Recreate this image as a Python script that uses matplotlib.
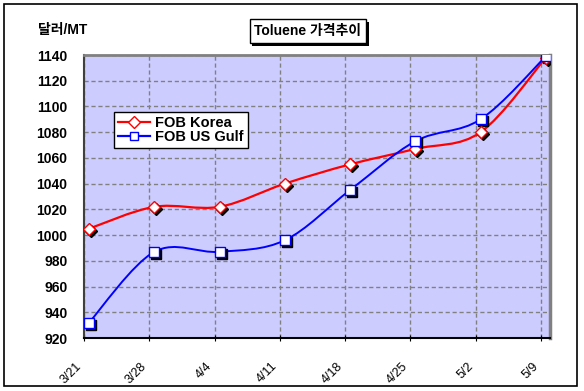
import numpy as np
import matplotlib
matplotlib.use("Agg")
import matplotlib.pyplot as plt
from matplotlib.path import Path
from matplotlib.patches import PathPatch, Rectangle
from matplotlib.lines import Line2D
import matplotlib.transforms as mtrans
import matplotlib.patheffects as pe

plt.rcParams['font.family'] = ['Liberation Sans', 'Noto Sans CJK KR', 'DejaVu Sans']

# data
dates = ['3/21', '3/28', '4/4', '4/11', '4/18', '4/25', '5/2', '5/9']
fob_korea = [1005, 1022, 1022, 1040, 1055, 1067, 1080, 1138]
fob_usgulf = [932, 987, 987, 996, 1035, 1073, 1090, 1139]

def smooth_path(x, y):
    # excel style smoothed line -> cubic bezier segments
    p = np.column_stack([x, y]).astype(float)
    n = len(p)
    verts = [p[0]]
    codes = [Path.MOVETO]
    for i in range(n - 1):
        pm = p[i - 1] if i > 0 else p[i]
        pp = p[i + 2] if i + 2 < n else p[i + 1]
        c1 = p[i] + (p[i + 1] - pm) / 6.0
        c2 = p[i + 1] - (pp - p[i]) / 6.0
        verts += [c1, c2, p[i + 1]]
        codes += [Path.CURVE4] * 3
    return Path(verts, codes)

fig = plt.figure(figsize=(5.84, 3.91), dpi=100)
fig.patches.append(Rectangle((4 / 584, 5 / 391), 573 / 584, 382 / 391,
                             transform=fig.transFigure, fill=False,
                             ec='black', lw=1.2))

ax = fig.add_axes([0.1438, 0.1355, 0.798, 0.7238])
ax.set_facecolor('#CCCCFF')

x = np.arange(len(dates)) + 0.077
shadow = mtrans.offset_copy(ax.transData, fig=fig, x=2, y=-2, units='dots')

ax.add_patch(PathPatch(smooth_path(x, fob_korea), fc='none', ec='red', lw=1.6, zorder=3))
ax.add_patch(PathPatch(smooth_path(x, fob_usgulf), fc='none', ec='blue', lw=1.4, zorder=3))

ax.plot(x, fob_korea, 'D', ms=6.5, color='black', transform=shadow, zorder=4)
ax.plot(x, fob_usgulf, 's', ms=6.5, color='black', transform=shadow, zorder=4)
ax.plot(x, fob_korea, 'D', ms=6.5, mfc='white', mec='red', mew=1, zorder=5)
ax.plot(x, fob_usgulf, 's', ms=6.5, mfc='white', mec='blue', mew=1, zorder=5)

ax.set_xlim(0, 7.14)
ax.set_ylim(920, 1140)
ax.set_yticks(np.arange(920, 1141, 20))
ax.set_xticks(np.arange(len(dates)))
ax.set_xticklabels(dates, rotation=45, ha='right', fontsize=9)
ax.tick_params(axis='x', length=4, direction='inout', pad=14)
ax.tick_params(axis='y', length=0, pad=12)
for lab in ax.get_yticklabels():
    lab.set_fontweight('bold')
    lab.set_fontsize(10)

ax.grid(True, color='#808080', ls=(0, (3, 2)), lw=1)
ax.set_axisbelow(True)
ax.spines['left'].set_color('#404040')
ax.spines['left'].set_linewidth(1.5)
ax.spines['bottom'].set_color('black')
ax.spines['bottom'].set_linewidth(1.5)
ax.spines['top'].set_color('#808080')
ax.spines['top'].set_linewidth(2)
ax.spines['right'].set_color('#808080')
ax.spines['right'].set_linewidth(2.5)

handles = [
    Line2D([], [], color='red', lw=1.6, marker='D', ms=6, mfc='white', mec='red'),
    Line2D([], [], color='blue', lw=1.6, marker='s', ms=6, mfc='white', mec='blue'),
]
leg = ax.legend(handles, ['FOB Korea', 'FOB US Gulf'], loc='upper left',
                bbox_to_anchor=(0.064, 0.80), borderaxespad=0, fancybox=False,
                framealpha=1, edgecolor='black', handlelength=2.2,
                handletextpad=0.3, labelspacing=0.0, borderpad=0.3,
                prop={'weight': 'bold', 'size': 10.5})
leg.get_frame().set_linewidth(1)

fig.text(38 / 584, 1 - 30 / 391, '달러/MT', ha='left', va='center',
         fontsize=10, fontweight='bold')
t = fig.text(308 / 584, 1 - 31 / 391, 'Toluene 가격추이', ha='center', va='center',
             fontsize=10, fontweight='bold',
             bbox=dict(boxstyle='square,pad=0.35', fc='white', ec='black', lw=1))
t.get_bbox_patch().set_path_effects([
    pe.SimplePatchShadow(offset=(2, -2), shadow_rgbFace='black', alpha=1),
    pe.Normal()])

fig.savefig('out.png', dpi=100)
